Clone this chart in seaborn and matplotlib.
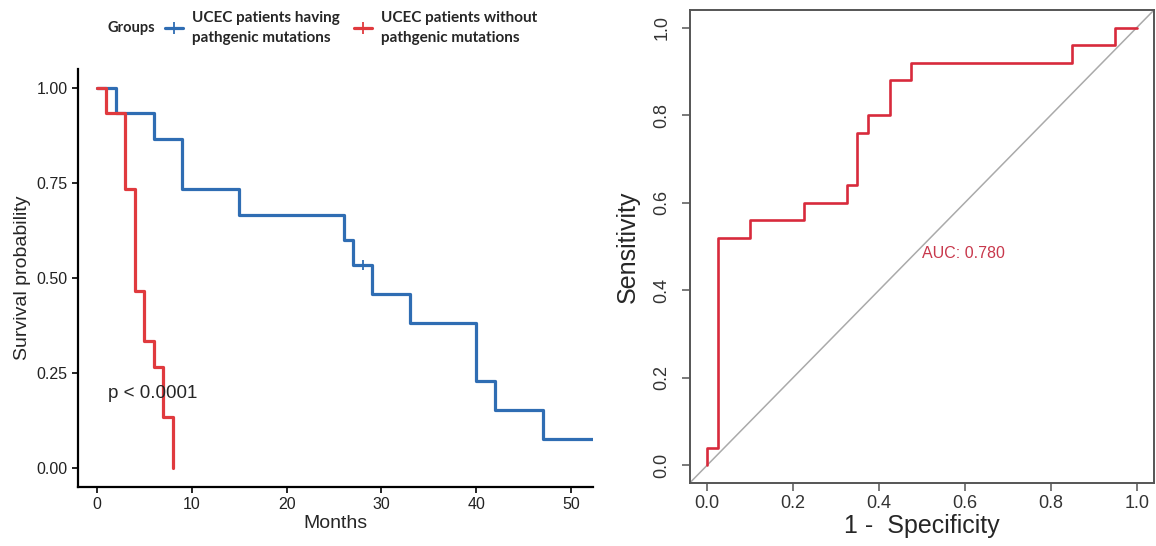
import pandas as pd
import seaborn as sns
import matplotlib.pyplot as plt
from matplotlib.lines import Line2D

# Kaplan-Meier curves
group_labels = ["UCEC patients having\npathgenic mutations",
                "UCEC patients without\npathgenic mutations"]
mut_months = [0, 2, 6, 9, 15, 26, 27, 29, 33, 40, 42, 47, 53]
mut_surv = [1.0, 0.933, 0.867, 0.733, 0.667, 0.600, 0.533, 0.457, 0.381, 0.229, 0.152, 0.076, 0.076]
mut_censor_months = [28]
mut_censor_surv = [0.533]
wt_months = [0, 1, 3, 4, 5, 6, 7, 8]
wt_surv = [1.0, 0.933, 0.733, 0.467, 0.333, 0.267, 0.133, 0.0]
km_xticks = [0, 10, 20, 30, 40, 50]
km_yticks = [0.0, 0.25, 0.5, 0.75, 1.0]
p_text = "p < 0.0001"

# ROC curve (1 - specificity, sensitivity), drawn as steps
fpr_steps = [0, 0.025, 0.1, 0.225, 0.325, 0.35, 0.375, 0.425, 0.475, 0.85, 0.95, 1.0]
tpr_steps = [0, 0.04, 0.52, 0.56, 0.60, 0.64, 0.76, 0.80, 0.88, 0.92, 0.96, 1.0]
auc_text = "AUC: 0.780"
roc_ticks = [0.0, 0.2, 0.4, 0.6, 0.8, 1.0]

blue = "#2f6db3"
red = "#e03a3e"
roc_red = "#d82a3c"

sns.set_style("ticks")
plt.rcParams['font.family'] = ['Liberation Sans', 'DejaVu Sans']

km_df = pd.concat([
    pd.DataFrame({"months": mut_months, "surv": mut_surv, "group": group_labels[0]}),
    pd.DataFrame({"months": wt_months, "surv": wt_surv, "group": group_labels[1]}),
])

fig = plt.figure(figsize=(11.56, 5.46), dpi=100)

# ---- left: survival curves
ax1 = fig.add_axes([78/1156, 59/546, (593-78)/1156, (487-69)/546])
sns.lineplot(data=km_df, x="months", y="surv", hue="group", hue_order=group_labels,
             palette=[blue, red], drawstyle="steps-post", estimator=None, sort=False,
             linewidth=2.3, legend=False, ax=ax1)
sns.scatterplot(x=mut_censor_months, y=mut_censor_surv, marker="+", s=60,
                color=blue, linewidth=1.3, ax=ax1, zorder=3)
ax1.set_xlim(-2, 52.3)
ax1.set_ylim(-0.05, 1.05)
ax1.set_xticks(km_xticks)
ax1.set_yticks(km_yticks)
ax1.set_yticklabels([f"{v:.2f}" for v in km_yticks])
ax1.tick_params(labelsize=11.5, length=4, width=1.2, colors="black", labelcolor="#222222")
for s in ["top", "right"]:
    ax1.spines[s].set_visible(False)
for s in ["left", "bottom"]:
    ax1.spines[s].set_linewidth(1.6)
    ax1.spines[s].set_color("black")
ax1.set_xlabel("Months", fontsize=14, labelpad=2)
ax1.set_ylabel("Survival probability", fontsize=14, labelpad=4)
ax1.text(1.2, 0.195, p_text, fontsize=13.5, va="center", ha="left")

# legend on top
fig.text(108/1156, 1-28/546, "Groups", fontsize=10.5, fontweight="bold",
         family=["Lato", "DejaVu Sans"], va="center")
handles = [Line2D([], [], color=blue, lw=2.3, marker="+", markersize=8, markeredgewidth=1.3),
           Line2D([], [], color=red, lw=2.3, marker="+", markersize=8, markeredgewidth=1.3)]
leg = fig.legend(handles, group_labels, loc="center left", bbox_to_anchor=(151/1156, 1-28/546),
                 ncol=2, frameon=False, handlelength=1.2, handletextpad=0.6, columnspacing=0.9,
                 prop={"family": ["Lato", "DejaVu Sans"], "weight": "bold", "size": 11})
for t in leg.get_texts():
    t.set_linespacing(1.5)

# ---- right: ROC
ax2 = fig.add_axes([689.7/1156, 63/546, (1154-689.7)/1156, (483-10)/546])
ax2.axline((0, 0), (1, 1), color="#aaaaaa", linewidth=1.1)
sns.lineplot(x=fpr_steps, y=tpr_steps, drawstyle="steps-pre", estimator=None, sort=False,
             color=roc_red, linewidth=1.9, ax=ax2)
ax2.set_xlim(-0.04, 1.04)
ax2.set_ylim(-0.04, 1.04)
ax2.set_xticks(roc_ticks)
ax2.set_yticks(roc_ticks)
ax2.set_xticklabels([f"{v:.1f}" for v in roc_ticks])
ax2.set_yticklabels([f"{v:.1f}" for v in roc_ticks], rotation=90, va="center")
ax2.tick_params(labelsize=13, length=6, width=1.1, colors="#555555", labelcolor="#333333")
ax2.tick_params(axis="x", pad=3)
ax2.tick_params(axis="y", pad=8)
for s in ax2.spines.values():
    s.set_color("#555555")
    s.set_linewidth(1.4)
ax2.set_xlabel("1 -  Specificity", fontsize=18, labelpad=1)
ax2.set_ylabel("Sensitivity", fontsize=18, labelpad=10)
ax2.text(0.5, 0.485, auc_text, color="#c8384c", fontsize=11.5, ha="left", va="center")

fig.savefig("out.png", dpi=100)
